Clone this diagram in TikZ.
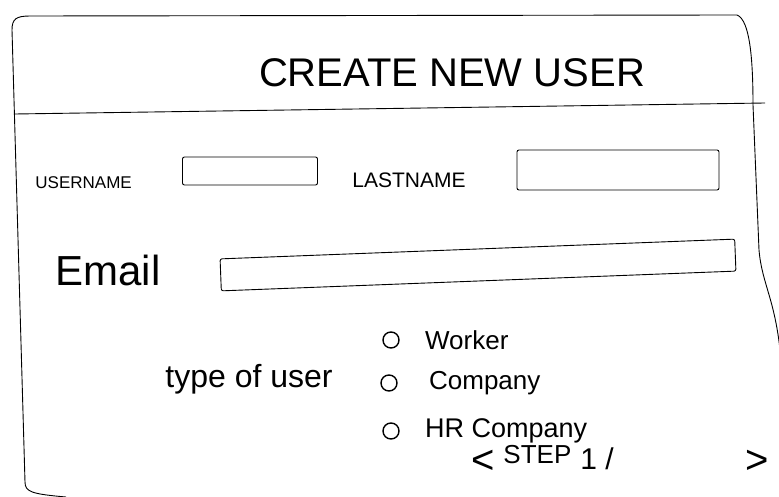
\documentclass[tikz,border=0pt]{standalone}
\usepackage{fontspec}
\setsansfont{Liberation Sans}
\usetikzlibrary{positioning}

\begin{document}
\begin{tikzpicture}[x=1pt, y=-1pt, line width=0.9pt,
  txt/.style={font=\sffamily\fontsize{#1}{#1}\selectfont, inner sep=0pt},
  field/.style={draw, rounded corners=2pt, inner sep=0pt},
  radio/.style={draw, circle, minimum size=16pt, inner sep=0pt, line width=1.4pt}]
 \useasboundingbox (0,0) rectangle (779,497);
 % frame, it runs off the page at the bottom
 \draw (25,482) -- (12,30) .. controls (12,19) and (16,16) .. (30,16) -- (737,15)
   .. controls (750,20) and (753,60) .. (753,105) -- (759,250)
   .. controls (762,285) and (776,300) .. (781,360);
 \draw (25,482) .. controls (25,492) and (32,494) .. (66,497);
 \draw (15,114) -- (765,103);
 \node[txt=40] (title) at (452,73) {CREATE NEW USER};

 % name fields
 \node[txt=17, anchor=west] (uname) at (35,183) {USERNAME};
 \node[field, minimum width=135pt, minimum height=28pt] (unamebox) at (250,171) {};
 \node[txt=21, anchor=west] (lname) at (352,180) {LASTNAME};
 \node[field, minimum width=202pt, minimum height=40pt] (lnamebox) at (618,170) {};

 % email
 \node[txt=42, anchor=west] (email) at (55,270) {Email};
 \node[field, minimum width=515pt, minimum height=32pt, rotate=2.2] (emailbox) at (478,265) {};

 % type of user
 \node[txt=32, anchor=west] (utype) at (165,379) {type of user};
 \node[radio] (rworker) at (391,340) {};
 \node[radio] (rcomp) at (389,383) {};
 \node[radio] (rhr) at (391,431) {};
 \node[txt=26, right=25pt of rworker] (worker) {Worker};
 \node[txt=26, right=31pt of rcomp] (comp) {Company};
 \node[txt=27, right=25pt of rhr] (hr) {HR Company};

 % step navigation
 \node[txt=40] (prev) at (483,462) {<};
 \node[txt=26, anchor=west] (step) at (503,455) {STEP};
 \node[txt=30, anchor=west] (num) at (580,459) {1 /};
 \node[txt=40] (next) at (757,462) {>};
\end{tikzpicture}
\end{document}
